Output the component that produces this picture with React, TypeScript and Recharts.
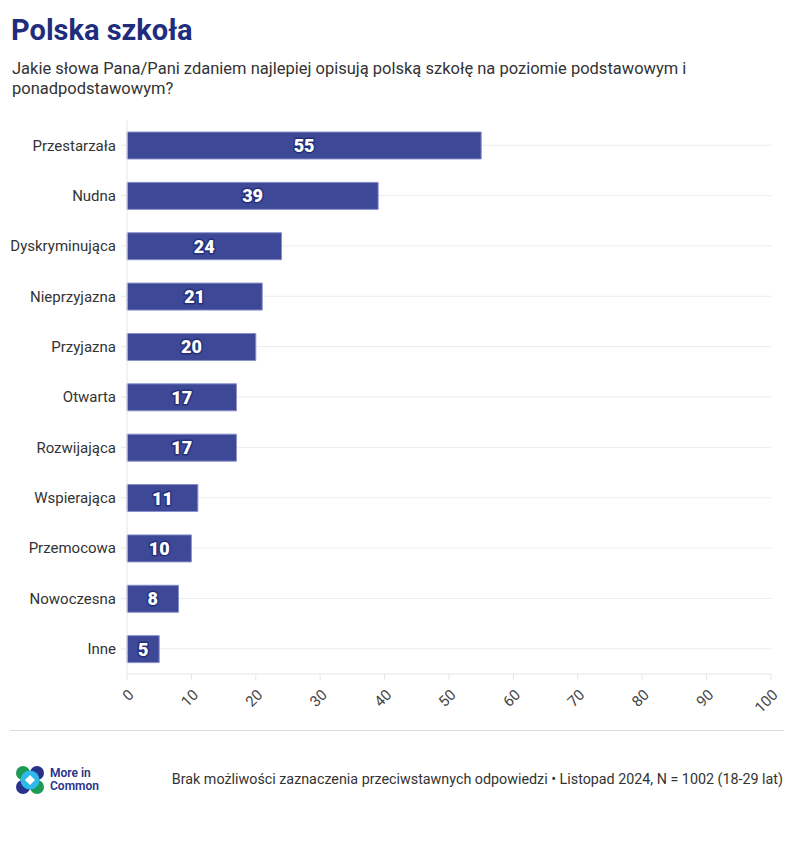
import React from "react";
import { BarChart, Bar, XAxis, YAxis, CartesianGrid, LabelList } from "recharts";

const categories = [
  "Przestarzała",
  "Nudna",
  "Dyskryminująca",
  "Nieprzyjazna",
  "Przyjazna",
  "Otwarta",
  "Rozwijająca",
  "Wspierająca",
  "Przemocowa",
  "Nowoczesna",
  "Inne",
];
const values = [55, 39, 24, 21, 20, 17, 17, 11, 10, 8, 5];
const xTicks = [0, 10, 20, 30, 40, 50, 60, 70, 80, 90, 100];

const data = categories.map((name, i) => ({ name, value: values[i] }));

const FONT = "Roboto, 'Noto Sans', sans-serif";

const XTick = (props: any) => {
  const { x, y, payload } = props;
  return (
    <g transform={`translate(${x},${y + 6})`}>
      <text
        x={0}
        y={0}
        dy={11}
        textAnchor="end"
        transform="rotate(-45)"
        fontSize={15}
        fill="#444"
        fontFamily={FONT}
      >
        {payload.value}
      </text>
    </g>
  );
};

const BarValue = (props: any) => {
  const { x, y, width, height, value } = props;
  return (
    <text
      x={x + width / 2}
      y={y + height / 2}
      dy={6.5}
      textAnchor="middle"
      fontSize={18}
      fontWeight={900}
      fill="#fff"
      stroke="#26307a"
      strokeWidth={3}
      paintOrder="stroke"
      strokeLinejoin="round"
      fontFamily={FONT}
    >
      {value}
    </text>
  );
};

const Logo = () => (
  <svg width={100} height={34} style={{ position: "absolute", left: 14, top: 764 }}>
    <circle cx={9} cy={9} r={7} fill="#1f9a55" />
    <circle cx={23} cy={9} r={7} fill="#28328a" />
    <circle cx={9} cy={23} r={7} fill="#28328a" />
    <circle cx={23} cy={23} r={7} fill="#1f9a55" />
    <circle cx={16} cy={16} r={9.5} fill="#2fb8ea" />
    <path d="M16 11 L21 16 L16 21 L11 16 Z" fill="#fff" />
    <text x={36} y={13} fontSize={12} fontWeight={600} fill="#28328a" fontFamily={FONT}>
      More in
    </text>
    <text x={36} y={26} fontSize={12} fontWeight={600} fill="#28328a" fontFamily={FONT}>
      Common
    </text>
  </svg>
);

export default function App() {
  return (
    <div
      style={{
        position: "absolute",
        left: 0,
        top: 0,
        width: 794,
        height: 844,
        background: "#fff",
        fontFamily: FONT,
      }}
    >
      <div
        style={{
          position: "absolute",
          left: 11,
          top: 13,
          fontSize: 29,
          fontWeight: 700,
          color: "#1f2d7d",
        }}
      >
        Polska szkoła
      </div>
      <div
        style={{
          position: "absolute",
          left: 12,
          top: 59,
          width: 770,
          fontSize: 16.5,
          lineHeight: "20px",
          color: "#333",
        }}
      >
        Jakie słowa Pana/Pani zdaniem najlepiej opisują polską szkołę na poziomie podstawowym i ponadpodstawowym?
      </div>
      <div style={{ position: "absolute", left: 0, top: 0 }}>
        <BarChart
          width={794}
          height={730}
          data={data}
          layout="vertical"
          margin={{ top: 120, right: 23, bottom: 0, left: 0 }}
        >
          <CartesianGrid
            vertical={false}
            stroke="#ececec"
            horizontalCoordinatesGenerator={(p: any) => {
              const top = p.offset.top;
              const h = p.offset.height;
              const band = h / categories.length;
              return categories.map((_, i) => top + band * (i + 0.5));
            }}
          />
          <XAxis
            type="number"
            domain={[0, 100]}
            ticks={xTicks}
            interval={0}
            height={56}
            tick={<XTick />}
            axisLine={{ stroke: "#e6e6e6" }}
            tickLine={{ stroke: "#e6e6e6" }}
            tickSize={6}
          />
          <YAxis
            type="category"
            dataKey="name"
            width={127}
            interval={0}
            axisLine={{ stroke: "#e6e6e6" }}
            tickLine={{ stroke: "#e6e6e6" }}
            tickSize={6}
            tickMargin={5}
            tick={{ fontSize: 15, fill: "#333", fontFamily: FONT }}
          />
          <Bar
            dataKey="value"
            fill="#3d4897"
            stroke="#8a90cc"
            strokeWidth={1}
            barSize={27}
            isAnimationActive={false}
          >
            <LabelList dataKey="value" content={<BarValue />} />
          </Bar>
        </BarChart>
      </div>
      <div
        style={{
          position: "absolute",
          left: 10,
          top: 730,
          width: 774,
          height: 1,
          background: "#dcdcdc",
        }}
      />
      <Logo />
      <div
        style={{
          position: "absolute",
          right: 11,
          top: 771,
          fontSize: 14.3,
          color: "#333",
          whiteSpace: "nowrap",
        }}
      >
        Brak możliwości zaznaczenia przeciwstawnych odpowiedzi • Listopad 2024, N = 1002 (18-29 lat)
      </div>
    </div>
  );
}
